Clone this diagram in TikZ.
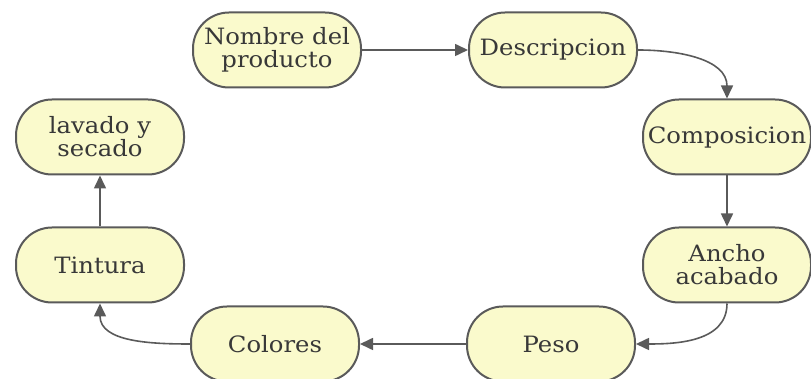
\documentclass[tikz,border=0pt]{standalone}
\usepackage{fontspec}
\setmainfont{DejaVu Serif}[FakeStretch=1.08]
\usetikzlibrary{arrows.meta}
\definecolor{boxfill}{HTML}{FAFACC}
\definecolor{boxline}{HTML}{5A5A5A}
\definecolor{txt}{HTML}{383838}
\tikzset{
  box/.style={draw=boxline, line width=2pt, fill=boxfill, rounded corners=36pt,
    minimum width=168pt, minimum height=75pt, inner sep=2pt, align=center,
    text=txt, font=\fontsize{22.5}{23}\selectfont},
  conn/.style={draw=boxline, line width=1.6pt, -{Triangle[length=13pt,width=12pt]}}
}
\begin{document}
\begin{tikzpicture}[x=1pt,y=1pt]
\useasboundingbox (0,0) rectangle (811,379);
\node[box] (nombre) at (277,329) {Nombre del\\producto};
\node[box] (desc) at (553,329) {Descripcion};
\node[box] (comp) at (727,242) {Composicion};
\node[box] (ancho) at (727,114) {Ancho\\acabado};
\node[box] (peso) at (551,35) {Peso};
\node[box] (colores) at (275,35) {Colores};
\node[box] (tintura) at (100,114) {Tintura};
\node[box] (lavado) at (100,242) {lavado y\\secado};
\draw[conn] (nombre) -- (desc);
\draw[conn] (desc.east) to[out=0,in=90] (comp.north);
\draw[conn] (comp) -- (ancho);
\draw[conn] (ancho.south) to[out=270,in=0] (peso.east);
\draw[conn] (peso) -- (colores);
\draw[conn] (colores.west) to[out=180,in=270] (tintura.south);
\draw[conn] (tintura) -- (lavado);
\end{tikzpicture}
\end{document}
